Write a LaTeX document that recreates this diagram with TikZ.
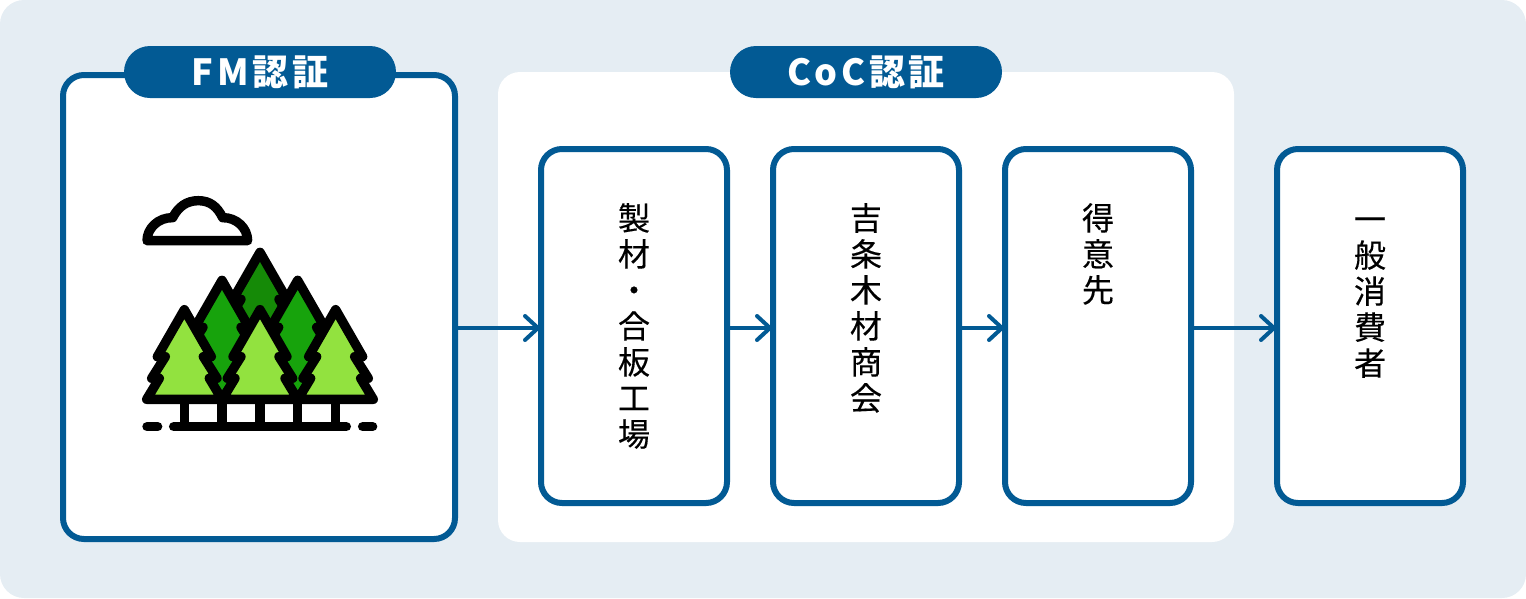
\documentclass[tikz,border=0pt]{standalone}
\usepackage{fontspec}
\usetikzlibrary{arrows.meta}
\newfontfamily\cjk[FakeBold=0.3]{Noto Sans CJK JP}
\newfontfamily\cjkhead[LetterSpace=10]{Noto Sans CJK JP}
\definecolor{fsblue}{HTML}{025A94}
\definecolor{fspale}{HTML}{E5EDF3}
\definecolor{leaflight}{HTML}{92E23F}
\definecolor{leafmid}{HTML}{17A30C}
\definecolor{leafdark}{HTML}{158A07}
\tikzset{
	stagebox/.style={draw=fsblue,line width=6pt,fill=white,rounded corners=21pt,inner sep=0pt,outer sep=3pt,minimum width=186pt,minimum height=354pt},
	headpill/.style={fill=fsblue,text=white,rounded corners=26pt,inner sep=0pt,minimum width=272pt,minimum height=52pt,font=\cjkhead\bfseries\fontsize{36}{40}\selectfont},
	stagetext/.style={anchor=north,inner sep=0pt,align=center,font=\cjk\fontsize{32}{36}\selectfont},
	flowline/.style={draw=fsblue,line width=4pt,shorten >=-2pt,-{Straight Barb[length=13pt,width=24pt,round]}},
	inkline/.style={draw=black,line width=9.4pt,line join=round,line cap=round},
}
\newcommand{\treeshape}{(0,374) -- (-81,515) -- (-57,515) -- (-98,580) -- (-75,580) -- (-113,643)
	-- (113,643) -- (75,580) -- (98,580) -- (57,515) -- (81,515) -- cycle}
\begin{document}
\begin{tikzpicture}[x=1pt,y=-1pt]
	\useasboundingbox (0,0) rectangle (1526,598);
	%panels
	\fill[fspale,rounded corners=24pt] (0,0) rectangle (1526,598);
	\fill[white,rounded corners=22pt] (498,72) rectangle (1234,542);
	%boxes
	\node (fmbox) at (259,307) [stagebox,minimum width=392pt,minimum height=464pt] {};
	\node (seizaibox) at (634,326) [stagebox] {};
	\node (yoshijobox) at (866,326) [stagebox] {};
	\node (tokuibox) at (1098,326) [stagebox] {};
	\node (ippanbox) at (1370,326) [stagebox] {};
	%heads
	\node (fmhead) at (260,72) [headpill] {FM認証};
	\node (cochead) at (866,72) [headpill] {CoC認証};
	%box texts
	\node (seizaitext) at (634,203) [stagetext] {製\\材\\・\\合\\板\\工\\場};
	\node (yoshijotext) at (866,203) [stagetext] {吉\\条\\木\\材\\商\\会};
	\node (tokuitext) at (1098,203) [stagetext] {得\\意\\先};
	\node (ippantext) at (1370,203) [stagetext] {\rule{0pt}{28pt}一\\般\\消\\費\\者};
	%arrows
	\coordinate (flowlevel) at (0,328);
	\draw[flowline] (fmbox.east |- flowlevel) -- (seizaibox.west |- flowlevel);
	\draw[flowline] (seizaibox.east |- flowlevel) -- (yoshijobox.west |- flowlevel);
	\draw[flowline] (yoshijobox.east |- flowlevel) -- (tokuibox.west |- flowlevel);
	\draw[flowline] (tokuibox.east |- flowlevel) -- (ippanbox.west |- flowlevel);
	%forest
	\begin{scope}[shift={(130,185)},x=0.3333pt,y=-0.3333pt]
		%cloud
		\draw[inkline,fill=white] (51,167) .. controls (51,130) and (85,97) .. (128,98)
			.. controls (145,65) and (170,47) .. (205,47)
			.. controls (240,47) and (262,65) .. (278,98)
			.. controls (320,97) and (353,130) .. (353,167) -- cycle;
		%trunks
		\foreach \trunkx in {163,276,390,503,617}
			\draw[inkline,line cap=butt] (\trunkx,643) -- (\trunkx,725);
		%ground
		\draw[inkline] (51,725) -- (83,725);
		\draw[inkline] (131,725) -- (649,725);
		\draw[inkline] (698,725) -- (728,725);
		%back trees
		\begin{scope}[shift={(390,-172)}]
			\draw[inkline,fill=leafdark] \treeshape;
		\end{scope}
		\foreach \treex in {276,503} {
			\begin{scope}[shift={(\treex,-88)}]
				\draw[inkline,fill=leafmid] (0,374) -- (-81,515) -- (-57,515) -- (-98,580) -- (0,731) -- (98,580) -- (57,515) -- (81,515) -- cycle;
			\end{scope}
		}
		%front trees
		\foreach \treex in {163,390,617} {
			\begin{scope}[shift={(\treex,0)}]
				\draw[inkline,fill=leaflight] \treeshape;
			\end{scope}
		}
	\end{scope}
\end{tikzpicture}
\end{document}
